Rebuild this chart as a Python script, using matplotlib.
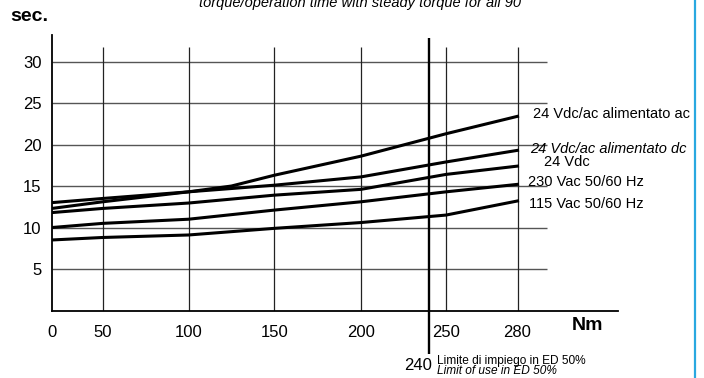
import numpy as np
import matplotlib
matplotlib.use("Agg")
import matplotlib.pyplot as plt

plt.rcParams['font.family'] = ['Liberation Sans', 'DejaVu Sans']

# ---- data ----
torque = [0, 50, 100, 150, 200, 250, 280]
torque_ac = [0, 50, 100, 125, 150, 200, 250, 280]
v24_ac = [12.3, 13.1, 14.3, 15.0, 16.3, 18.6, 21.3, 23.4]
v24_dc = [13.0, 13.5, 14.3, 15.1, 16.1, 17.9, 19.3]
v24vdc = [11.8, 12.3, 12.95, 13.9, 14.6, 16.4, 17.4]
v230 = [10.0, 10.5, 11.0, 12.1, 13.1, 14.3, 15.2]
v115 = [8.5, 8.8, 9.1, 9.9, 10.6, 11.5, 13.2]
x_ticks = [0, 50, 100, 150, 200, 250, 280]
y_ticks = [5, 10, 15, 20, 25, 30]
limit_torque = 240
labels = ["24 Vdc/ac alimentato ac", "24 Vdc/ac alimentato dc", "24 Vdc",
          "230 Vac 50/60 Hz", "115 Vac 50/60 Hz"]

# ---- piecewise x scale (non-uniform axis of the original) ----
bp_data = [0, 50, 100, 150, 200, 250, 280, 330]
bp_pos = [0, 50.7, 136.5, 222.3, 309, 394, 465.5, 584.5]

def fwd(x):
    return np.interp(x, bp_data, bp_pos)

def inv(p):
    return np.interp(p, bp_pos, bp_data)

W, H = 704, 378
fig = plt.figure(figsize=(W / 100, H / 100), dpi=100)
ax = fig.add_axes([52 / W, (H - 310.5) / H, (618 - 52) / W, (310.5 - 35) / H])
ax.set_xscale('function', functions=(fwd, inv))
ax.set_xlim(0, inv(566))
ax.set_ylim(0, 33.2)

for s in ['top', 'right']:
    ax.spines[s].set_visible(False)
for s in ['left', 'bottom']:
    ax.spines[s].set_linewidth(1.3)
    ax.spines[s].set_color('black')

grid_end = inv(495)
ax.hlines(y_ticks, 0, grid_end, colors='#555555', lw=1.0, zorder=1)
ax.vlines([t for t in x_ticks if t > 0], 0, 31.8, colors='#222222', lw=0.9, zorder=1)
ax.vlines(limit_torque, -5.2, 32.8, colors='black', lw=1.7, zorder=3, clip_on=False)

lw = 2.2
ax.plot(torque_ac, v24_ac, color='black', lw=lw, zorder=4)
ax.plot(torque, v24_dc, color='black', lw=lw, zorder=4)
ax.plot(torque, v24vdc, color='black', lw=lw, zorder=4)
ax.plot(torque, v230, color='black', lw=lw, zorder=4)
ax.plot(torque, v115, color='black', lw=lw, zorder=4)

ax.set_xticks(x_ticks)
ax.set_xticklabels([str(t) for t in x_ticks])
ax.set_yticks(y_ticks)
ax.set_yticklabels([str(t) for t in y_ticks])
ax.minorticks_off()
ax.tick_params(axis='x', length=0, pad=10.5, labelsize=12)
ax.tick_params(axis='y', length=0, pad=7.5, labelsize=12)

def ft(x, y, s, **kw):
    fig.text(x / W, 1 - y / H, s, **kw)

ft(10, 16.5, "sec.", fontsize=14, fontweight='bold', va='center', ha='left')
ft(572, 325, "Nm", fontsize=14, fontweight='bold', va='center', ha='left')
fig.text(360 / W, 1 - 6.7 / H, "torque/operation time with steady torque for all 90",
         fontsize=10.5, style='italic', ha='center', va='baseline')

ft(533, 114, labels[0], fontsize=10.5, va='center', ha='left')
ft(530.5, 149, labels[1], fontsize=10.5, style='italic', va='center', ha='left')
ft(544, 162, labels[2], fontsize=10.5, va='center', ha='left')
ft(528, 181.6, labels[3], fontsize=10.5, va='center', ha='left')
ft(529, 204, labels[4], fontsize=10.5, va='center', ha='left')

ft(432, 366, str(limit_torque), fontsize=12, va='center', ha='right')
ft(437, 361, "Limite di impiego in ED 50%", fontsize=8.6, va='center', ha='left')
ft(437, 371.5, "Limit of use in ED 50%", fontsize=8.6, style='italic', va='center', ha='left')

fig.add_artist(plt.Line2D([695 / W, 695 / W], [0, 1], color='#29A8E0', lw=1.6,
                          transform=fig.transFigure))

fig.savefig("out.png", dpi=100)
